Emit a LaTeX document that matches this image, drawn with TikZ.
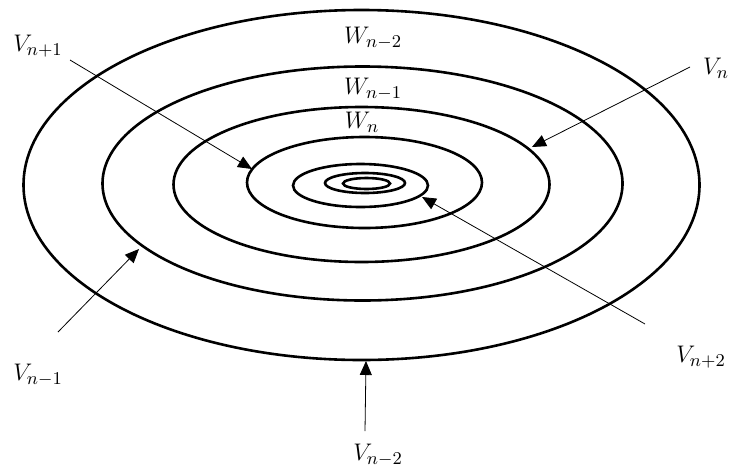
\documentclass[tikz,border=0pt]{standalone}
\usepackage{amsmath}
\usetikzlibrary{arrows.meta}
\tikzset{
  ring/.style={line width=1.3pt},
  pointer/.style={line width=0.4pt,-{Triangle[length=7pt,width=6pt]}},
  lab/.style={font=\fontsize{13}{15}\selectfont,inner sep=1pt}
}

\begin{document}
\begin{tikzpicture}[x=0.5pt,y=-0.5pt]
        \useasboundingbox (0,0) rectangle (731,471);
        % nested level sets
        \foreach \cx/\cy/\rx/\ry in {361.5/185/338/175,362.5/183.5/260/117,361.5/184.5/188/77.5,
          364.5/182.5/117.5/45.5,360.5/185.5/67.5/21.5,365/183/40/10,366.5/183.5/23.5/5.5}
          \draw[ring] (\cx,\cy) ellipse [x radius=\rx, y radius=\ry];
        \node[lab] (w2) at (373,38) {$W_{n-2}$};
        \node[lab] (w1) at (373,89) {$W_{n-1}$};
        \node[lab] (w0) at (362,122) {$W_n$};
        \node[lab] (vp1) at (38,46) {$V_{n+1}$};
        \node[lab] (v0) at (716,68) {$V_n$};
        \node[lab] (vm1) at (38,375) {$V_{n-1}$};
        \node[lab] (vp2) at (701,357) {$V_{n+2}$};
        \node[lab] (vm2) at (378,455) {$V_{n-2}$};
        \coordinate (tp1) at (70,60);   \coordinate (hp1) at (252,169);
        \coordinate (t0) at (690,67);   \coordinate (h0) at (532,147);
        \coordinate (tm1) at (58,332);  \coordinate (hm1) at (139,249);
        \coordinate (tp2) at (645,324); \coordinate (hp2) at (422,197);
        \coordinate (tm2) at (365,431); \coordinate (hm2) at (366,361);
        \draw[pointer] (tp1) -- (hp1);
        \draw[pointer] (t0) -- (h0);
        \draw[pointer] (tm1) -- (hm1);
        \draw[pointer] (tp2) -- (hp2);
        \draw[pointer] (tm2) -- (hm2);
\end{tikzpicture}
\end{document}
